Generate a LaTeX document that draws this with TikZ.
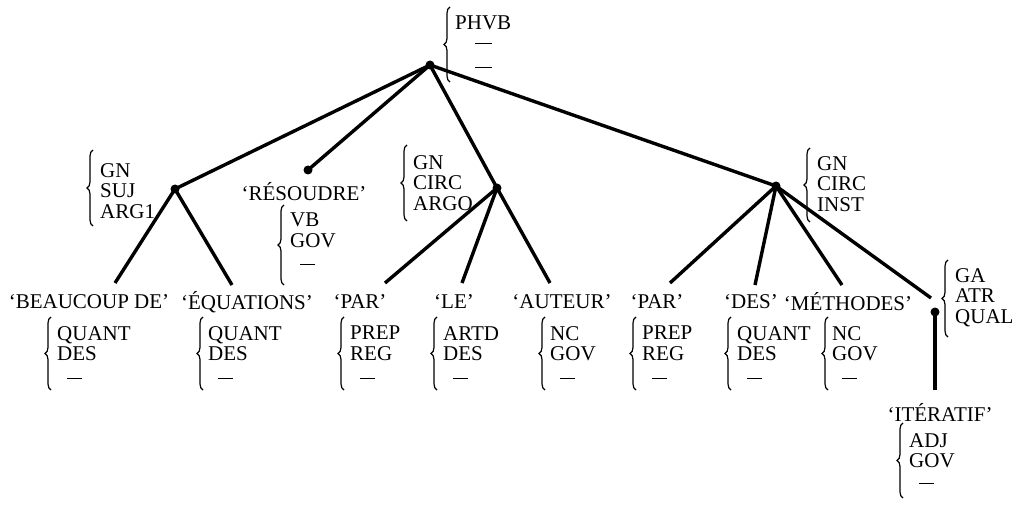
\documentclass[tikz,border=0pt]{standalone}
\usepackage{fontspec}
\setmainfont{Liberation Serif}
\usetikzlibrary{decorations.pathreplacing}
\newcommand\dsh{\hspace{10pt}\rule[5pt]{15pt}{0.9pt}}
\newcommand\dshb{\hspace{20pt}\rule[5pt]{17pt}{0.9pt}}
\begin{document}
\begin{tikzpicture}[x=1pt,y=-1pt,
  every node/.style={font=\fontsize{21}{20.5}\selectfont, inner sep=0pt},
  dotnode/.style={circle, fill=black, minimum size=9pt, inner sep=0pt},
  branch/.style={line width=3.4pt},
  lbl/.style={anchor=center},
  feat/.style={anchor=north west, align=left},
  br/.style={decorate, decoration={brace, amplitude=6pt}, line width=1.2pt}]
\useasboundingbox (0,0) rectangle (1016,521);

% dots
\node[dotnode] (root) at (430,65) {};
\node[dotnode] (suj) at (175,189) {};
\node[dotnode] (res) at (308,170) {};
\node[dotnode] (argo) at (497,188) {};
\node[dotnode] (inst) at (776,186) {};
\node[dotnode] (ga) at (935,312) {};

% free ends of branches
\coordinate (e1) at (115,283);
\coordinate (e2) at (232,285);
\coordinate (e3) at (385,283);
\coordinate (e4) at (462,283);
\coordinate (e5) at (550,283);
\coordinate (e6) at (670,283);
\coordinate (e7) at (755,285);
\coordinate (e8) at (842,285);
\coordinate (e9) at (935,390);
\coordinate (e10) at (931,298);

% branches
\draw[branch] (root.center) -- (suj.center);
\draw[branch] (root.center) -- (res.center);
\draw[branch] (root.center) -- (argo.center);
\draw[branch] (root.center) -- (inst.center);
\draw[branch] (suj.center) -- (e1);
\draw[branch] (suj.center) -- (e2);
\draw[branch] (argo.center) -- (e3);
\draw[branch] (argo.center) -- (e4);
\draw[branch] (argo.center) -- (e5);
\draw[branch] (inst.center) -- (e6);
\draw[branch] (inst.center) -- (e7);
\draw[branch] (inst.center) -- (e8);
\draw[branch] (inst.center) -- (e10);
\draw[branch] (ga.center) -- (e9);

% word labels
\node[lbl] (w1) at (89,302) {‘BEAUCOUP DE’};
\node[lbl] (w2) at (247,302) {‘ÉQUATIONS’};
\node[lbl] (w3) at (304,192) {‘RÉSOUDRE’};
\node[lbl] (w4) at (360,302) {‘PAR’};
\node[lbl] (w5) at (454,302) {‘LE’};
\node[lbl] (w6) at (562,302) {‘AUTEUR’};
\node[lbl] (w7) at (657,302) {‘PAR’};
\node[lbl] (w8) at (751,302) {‘DES’};
\node[lbl] (w9) at (848,302) {‘MÉTHODES’};
\node[lbl] (w10) at (940,412) {‘ITÉRATIF’};

% feature lists
\node[feat] (fphvb) at (455,16) {PHVB\\[-2pt]\dshb\\[3.5pt]\dshb};
\draw[br] (450,82) -- (450,7);

\node[feat] (fsuj) at (100,163) {GN\\SUJ\\ARG1};
\draw[br] (93,226) -- (93,150);

\node[feat] (fres) at (290,213) {VB\\GOV\\[2pt]\dsh};
\draw[br] (284,285) -- (284,205);

\node[feat] (fargo) at (413,155) {GN\\CIRC\\ARGO};
\draw[br] (407,221) -- (407,145);

\node[feat] (finst) at (817,156) {GN\\CIRC\\INST};
\draw[br] (810,222) -- (810,148);

\node[feat] (fga) at (955,268) {GA\\ATR\\QUAL};
\draw[br] (948,337) -- (948,260);

\node[feat] (f1) at (57,326) {QUANT\\DES\\[3pt]\dsh};
\draw[br] (51,390) -- (51,317);
\node[feat] (f2) at (208,326) {QUANT\\DES\\[3pt]\dsh};
\draw[br] (203,390) -- (203,317);
\node[feat] (f3) at (350,326) {PREP\\REG\\[3pt]\dsh};
\draw[br] (344,390) -- (344,317);
\node[feat] (f4) at (443,326) {ARTD\\DES\\[3pt]\dsh};
\draw[br] (437,390) -- (437,317);
\node[feat] (f5) at (550,326) {NC\\GOV\\[3pt]\dsh};
\draw[br] (545,390) -- (545,317);
\node[feat] (f6) at (642,326) {PREP\\REG\\[3pt]\dsh};
\draw[br] (636,390) -- (636,317);
\node[feat] (f7) at (737,326) {QUANT\\DES\\[3pt]\dsh};
\draw[br] (731,390) -- (731,317);
\node[feat] (f8) at (832,326) {NC\\GOV\\[3pt]\dsh};
\draw[br] (828,390) -- (828,317);
\node[feat] (f9) at (909,433) {ADJ\\GOV\\[1pt]\dsh};
\draw[br] (903,498) -- (903,423);
\end{tikzpicture}
\end{document}
